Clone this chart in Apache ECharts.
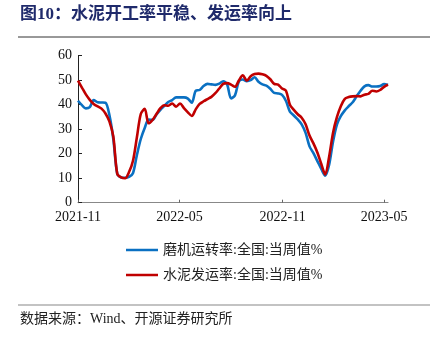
<!DOCTYPE html>
<html><head><meta charset="utf-8">
<script src="https://cdn.jsdelivr.net/npm/echarts@6/dist/echarts.min.js"></script>
<style>html,body{margin:0;padding:0;background:#fff}#c{width:439px;height:346px}</style>
</head><body><div id="c"></div>
<script>
const startDate = '2021-11-01';
const tickLabels = ['2021-11', '2022-05', '2022-11', '2023-05'];
const yTicks = [0, 10, 20, 30, 40, 50, 60];
const millRate = [41.6,39.8,38.5,39.0,41.9,41.0,40.9,40.8,35.8,26.0,11.8,10.3,10.2,10.5,12.0,19.4,26.0,30.5,33.9,33.8,
36.0,37.9,39.5,41.1,41.9,43.0,43.0,43.0,42.5,40.8,45.7,46.0,47.6,48.5,48.3,48.1,48.6,49.6,48.3,42.6,
43.8,49.5,50.3,49.6,50.0,51.2,49.4,48.3,47.8,46.5,44.8,44.6,44.0,41.5,37.2,35.6,34.0,32.0,28.5,23.0,
20.2,17.0,13.8,11.0,15.5,25.0,32.0,35.4,37.7,39.4,41.0,43.4,45.7,47.5,48.0,47.4,47.4,47.6,48.4,48.0];
const shipRate = [49.8,47.0,44.2,42.0,40.3,39.3,38.4,36.4,33.2,27.0,11.8,10.3,10.0,12.5,17.0,26.6,36.2,38.3,32.4,33.8,
36.2,38.6,39.8,39.6,40.5,39.2,40.5,38.6,36.9,35.4,38.1,40.3,41.4,42.3,43.2,44.7,46.6,48.5,48.8,48.2,
47.3,49.9,52.0,49.8,51.6,52.5,52.7,52.4,51.8,50.4,48.5,48.2,46.6,45.7,40.0,37.9,36.1,34.7,32.0,27.4,
24.2,20.5,15.8,11.5,18.8,28.6,35.0,39.5,42.4,43.1,43.4,43.5,43.4,44.1,44.4,45.7,45.4,46.0,47.3,48.2];
const seriesNames = ['磨机运转率:全国:当周值%', '水泥发运率:全国:当周值%'];

const DAY = 86400000;
const t0 = Date.parse(startDate + 'T00:00:00Z');
const dates = millRate.map((_, i) => t0 + i * 7 * DAY);
const tickVals = tickLabels.map(s => Date.parse(s + '-01T00:00:00Z'));
const xMax = dates[dates.length - 1];

const serif = '"Liberation Serif","Noto Sans CJK SC",serif';
const chart = echarts.init(document.getElementById('c'), null, {renderer: 'canvas'});
chart.setOption({
  animation: false,
  backgroundColor: '#fff',
  graphic: [
    {type: 'text', left: 20, top: 6, style: {text: '图10：水泥开工率平稳、发运率向上', fill: '#1F2A6B', font: 'bold 17px "Liberation Serif","Noto Sans CJK SC",serif'}},
    {type: 'line', shape: {x1: 18, y1: 37, x2: 430, y2: 37}, style: {stroke: '#333', lineWidth: 1}},
    {type: 'line', shape: {x1: 18, y1: 305, x2: 430, y2: 305}, style: {stroke: '#888', lineWidth: 1.2}},
    {type: 'text', left: 20, top: 312, style: {text: '数据来源：Wind、开源证券研究所', fill: '#222', font: '14px "Liberation Serif","Noto Sans CJK SC",serif'}}
  ],
  grid: {left: 78, right: 51, top: 55.7, bottom: 143.3, containLabel: false},
  legend: {
    orient: 'vertical', left: 126, top: 243, padding: 0, itemWidth: 32, itemHeight: 2.5, itemGap: 11,
    icon: 'rect',
    textStyle: {fontSize: 14, color: '#222', fontFamily: serif, padding: [0, 0, 0, 0]},
    data: seriesNames
  },
  xAxis: {
    type: 'value', min: t0, max: xMax,
    axisLine: {lineStyle: {color: '#888', width: 1.2}},
    axisTick: {show: true, inside: true, length: 3, lineStyle: {color: '#666'}, customValues: tickVals},
    axisLabel: {
      customValues: tickVals, color: '#111', fontSize: 14, fontFamily: serif, margin: 8,
      formatter: v => { const d = new Date(v); return d.getUTCFullYear() + '-' + String(d.getUTCMonth() + 1).padStart(2, '0'); }
    },
    splitLine: {show: false}
  },
  yAxis: {
    type: 'value', min: 0, max: 60, interval: 10,
    axisLine: {show: true, lineStyle: {color: '#222', width: 1}},
    axisTick: {show: true, inside: true, length: 4, lineStyle: {color: '#222'}},
    axisLabel: {color: '#111', fontSize: 14, fontFamily: serif, margin: 6},
    splitLine: {show: false}
  },
  series: [
    {name: seriesNames[0], type: 'line', data: dates.map((d, i) => [d, millRate[i]]), symbol: 'none', smooth: 0.3,
     lineStyle: {color: '#0A70C2', width: 2.6}, itemStyle: {color: '#0A70C2'}},
    {name: seriesNames[1], type: 'line', data: dates.map((d, i) => [d, shipRate[i]]), symbol: 'none', smooth: 0.3,
     lineStyle: {color: '#C00000', width: 2.6}, itemStyle: {color: '#C00000'}}
  ]
});
</script></body></html>
